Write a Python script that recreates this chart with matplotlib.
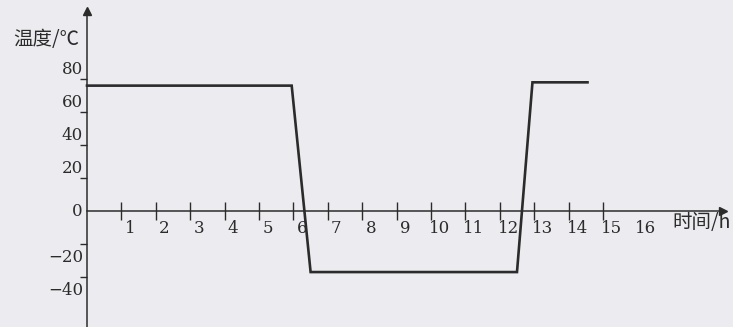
import numpy as np
import matplotlib
matplotlib.use('Agg')
import matplotlib.pyplot as plt

# data
hours = [0, 5.95, 6.5, 12.5, 12.95, 14.55]
temps = [76, 76, -37, -37, 78, 78]
x_ticks = list(range(1, 16))
x_labels = [str(k) for k in range(1, 17)]
y_ticks = [80, 60, 40, 20, -20, -40]
y_labels = ['80', '60', '40', '20', '0', '-20', '-40']
y_label_vals = [80, 60, 40, 20, 0, -20, -40]

BG = '#ececf0'
INK = '#2b2b2b'
NUM_FONT = ['DejaVu Serif']
CJK_FONT = ['Noto Sans CJK SC', 'DejaVu Sans']

fig = plt.figure(figsize=(7.33, 3.27), dpi=100, facecolor=BG)
ax = fig.add_axes([0, 0, 1, 1], facecolor=BG)
ax.set_xlim(-2.53, 18.78)
ax.set_ylim(-70.3, 127.9)

# axes through origin
for side in ['top', 'right']:
    ax.spines[side].set_visible(False)
ax.spines['left'].set_position(('data', 0))
ax.spines['bottom'].set_position(('data', 0))
ax.spines['left'].set_bounds(-70.3, 121)
ax.spines['bottom'].set_bounds(0, 18.5)
for side in ['left', 'bottom']:
    ax.spines[side].set_color(INK)
    ax.spines[side].set_linewidth(1.1)
ax.plot([0], [121], marker='^', color=INK, ms=6, clip_on=False)
ax.plot([18.5], [0], marker='>', color=INK, ms=6, clip_on=False)

ax.set_xticks(x_ticks)
ax.set_yticks(y_ticks)
ax.set_xticklabels([])
ax.set_yticklabels([])
ax.tick_params(axis='x', direction='inout', length=13, width=1.0, color=INK)
ax.tick_params(axis='y', direction='out', length=5, width=1.0, color=INK)

# tick labels sit beside the ticks
for k, lab in enumerate(x_labels, start=1):
    ax.text(k + 0.25, -10.9, lab, ha='center', va='center',
            fontsize=12, family=NUM_FONT, color=INK)
for v, lab in zip(y_label_vals, y_labels):
    dy = 5.5 if v > 0 else (-8 if v < 0 else 0)
    ax.text(-0.12, v + dy, lab.replace('-', '\u2212'), ha='right', va='center',
            fontsize=12, family=NUM_FONT, color=INK)

ax.text(-1.19, 104, '温度/℃', ha='center', va='center',
        fontsize=14, family=CJK_FONT, color=INK)
ax.text(17.88, -6.7, '时间/h', ha='center', va='center',
        fontsize=14, family=CJK_FONT, color=INK)

ax.plot(hours, temps, color=INK, lw=1.9, solid_joinstyle='miter')

fig.savefig('out.png', dpi=100, facecolor=BG)
